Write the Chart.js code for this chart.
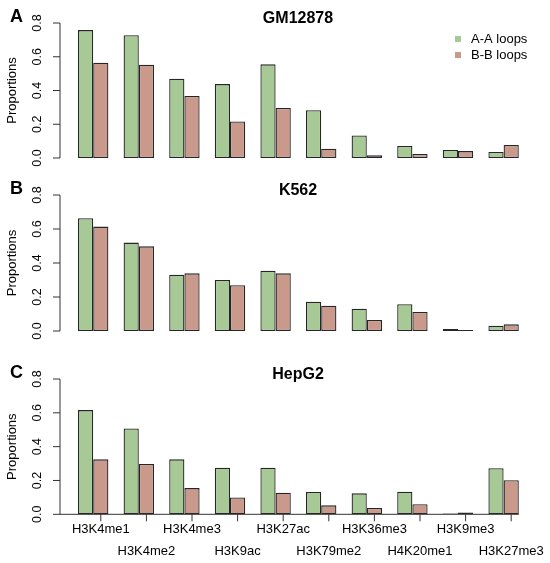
<!DOCTYPE html>
<html>
<head>
<meta charset="utf-8">
<script src="https://cdn.jsdelivr.net/npm/chart.js@4"></script>
<style>
  body { margin: 0; background: #fff; }
  .panel { position: absolute; left: 0; width: 550px; }
  canvas { display: block; }
</style>
</head>
<body>
<div class="panel" style="top:0;height:180px"><canvas id="chartA"></canvas></div>
<div class="panel" style="top:180px;height:180px"><canvas id="chartB"></canvas></div>
<div class="panel" style="top:360px;height:203px"><canvas id="chartC"></canvas></div>
<script>
const marks = ['H3K4me1', 'H3K4me2', 'H3K4me3', 'H3K9ac', 'H3K27ac',
               'H3K79me2', 'H3K36me3', 'H4K20me1', 'H3K9me3', 'H3K27me3'];
const yTicks = [0, 0.2, 0.4, 0.6, 0.8];
const seriesNames = ['A-A loops', 'B-B loops'];

const gmAA = [0.758, 0.727, 0.470, 0.438, 0.555, 0.283, 0.134, 0.071, 0.047, 0.036];
const gmBB = [0.565, 0.553, 0.367, 0.217, 0.296, 0.055, 0.016, 0.024, 0.041, 0.077];

const kAA = [0.663, 0.520, 0.331, 0.300, 0.355, 0.172, 0.131, 0.157, 0.012, 0.031];
const kBB = [0.614, 0.498, 0.339, 0.269, 0.339, 0.149, 0.065, 0.112, 0.006, 0.039];

const hepAA = [0.616, 0.508, 0.325, 0.275, 0.275, 0.132, 0.124, 0.134, 0.004, 0.272];
const hepBB = [0.325, 0.297, 0.155, 0.100, 0.128, 0.053, 0.037, 0.059, 0.010, 0.201];

const green = '#a6c996';
const red = '#c99a8b';
const fontName = '"Liberation Sans", Arial, Helvetica, sans-serif';
const axisX = 60;

// draws the R-style axes, titles and legend
const decorPlugin = {
  id: 'decor',
  afterDraw(chart, args, opts) {
    const ctx = chart.ctx;
    const x = chart.scales.x;
    const y = chart.scales.y;
    const y0 = y.getPixelForValue(0);
    const yTop = y.getPixelForValue(0.8);
    ctx.save();
    ctx.strokeStyle = '#333';
    ctx.fillStyle = '#000';
    ctx.lineWidth = 1;

    // y axis
    ctx.beginPath();
    ctx.moveTo(axisX, y0);
    ctx.lineTo(axisX, yTop);
    yTicks.forEach(v => {
      const py = y.getPixelForValue(v);
      ctx.moveTo(axisX - 7, py);
      ctx.lineTo(axisX, py);
    });
    ctx.stroke();

    ctx.font = '12.5px ' + fontName;
    ctx.textAlign = 'center';
    ctx.textBaseline = 'middle';
    yTicks.forEach(v => {
      const py = y.getPixelForValue(v);
      ctx.save();
      ctx.translate(38, py);
      ctx.rotate(-Math.PI / 2);
      ctx.fillText(v.toFixed(1), 0, 0);
      ctx.restore();
    });

    ctx.font = '13px ' + fontName;
    ctx.save();
    ctx.translate(12, (y0 + yTop) / 2);
    ctx.rotate(-Math.PI / 2);
    ctx.fillText('Proportions', 0, 0);
    ctx.restore();

    // panel letter and title
    ctx.font = 'bold 18px ' + fontName;
    ctx.textAlign = 'left';
    ctx.textBaseline = 'alphabetic';
    ctx.fillText(opts.letter, 10, yTop - 1);
    ctx.font = 'bold 16px ' + fontName;
    ctx.textAlign = 'center';
    ctx.fillText(opts.title, 298, yTop);

    const catW = x.getPixelForValue(1) - x.getPixelForValue(0);

    if (opts.legend) {
      ctx.font = '13px ' + fontName;
      ctx.textAlign = 'left';
      ctx.textBaseline = 'middle';
      chart.data.datasets.forEach((ds, i) => {
        const ly = 39 + i * 16;
        ctx.fillStyle = ds.backgroundColor;
        ctx.fillRect(455, ly - 3, 6, 6);
        ctx.fillStyle = '#000';
        ctx.fillText(ds.label, 471, ly);
      });
    }

    if (opts.xLabels) {
      const last = chart.data.labels.length - 1;
      ctx.beginPath();
      ctx.moveTo(axisX, y0);
      ctx.lineTo(x.getPixelForValue(last) + catW / 3, y0);
      chart.data.labels.forEach((lab, i) => {
        const px = x.getPixelForValue(i) + catW / 6;
        ctx.moveTo(px, y0);
        ctx.lineTo(px, y0 + 7);
      });
      ctx.stroke();
      ctx.font = '13px ' + fontName;
      ctx.textAlign = 'center';
      ctx.textBaseline = 'middle';
      chart.data.labels.forEach((lab, i) => {
        const px = x.getPixelForValue(i) + catW / 6;
        ctx.fillText(lab, px, y0 + (i % 2 === 0 ? 15 : 37));
      });
    }
    ctx.restore();
  }
};

function barSet(label, values, colour) {
  return {
    label: label,
    data: values,
    backgroundColor: colour,
    borderColor: '#262626',
    borderWidth: 1.3,
    borderSkipped: false,
    barPercentage: 1,
    categoryPercentage: 2 / 3
  };
}

function makePanel(id, aa, bb, letter, title, pad, legend, xLabels) {
  const config = {
    type: 'bar',
    data: {
      labels: marks,
      datasets: [barSet(seriesNames[0], aa, green), barSet(seriesNames[1], bb, red)]
    },
    options: {
      responsive: true,
      maintainAspectRatio: false,
      animation: false,
      layout: { padding: pad },
      scales: {
        x: { display: false },
        y: { display: false, min: 0, max: 0.8 }
      },
      plugins: {
        legend: { display: false },
        tooltip: { enabled: false },
        decor: { letter: letter, title: title, legend: legend, xLabels: xLabels }
      }
    },
    plugins: [decorPlugin]
  };
  return new Chart(document.getElementById(id), config);
}

makePanel('chartA', gmAA, gmBB, 'A', 'GM12878',
  { left: 70.4, right: 23.6, top: 23, bottom: 22 }, true, false);
makePanel('chartB', kAA, kBB, 'B', 'K562',
  { left: 70.4, right: 23.6, top: 15, bottom: 29 }, false, false);
makePanel('chartC', hepAA, hepBB, 'C', 'HepG2',
  { left: 70.4, right: 23.6, top: 19, bottom: 48.7 }, false, true);
</script>
</body>
</html>
